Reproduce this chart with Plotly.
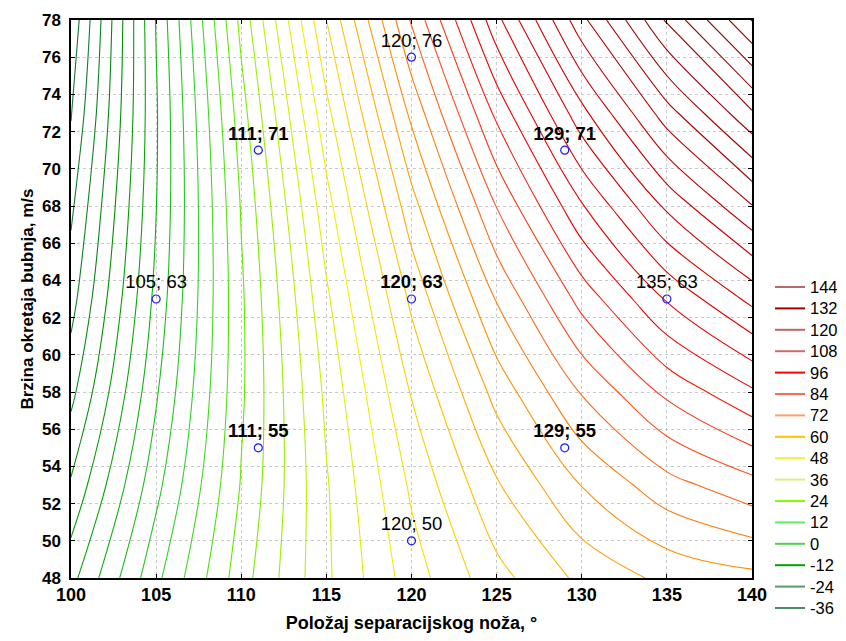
import plotly.graph_objects as go

# Grid of the response surface
x_vals = [100, 105, 110, 115, 120, 125, 130, 135, 140]
y_vals = [48, 53, 58, 63, 68, 73, 78]
z_rows = [
    [-5.30, 10.96, 26.24, 39.28, 50.08, 58.64, 64.96, 69.04, 70.88],     # y=48
    [-11.50, 6.72, 24.29, 39.61, 52.70, 63.55, 72.15, 78.52, 82.64],     # y=53
    [-17.20, 3.46, 23.31, 40.93, 56.30, 69.43, 80.33, 88.98, 95.39],     # y=58
    [-21.60, 1.18, 23.32, 43.22, 60.88, 76.30, 89.48, 100.42, 109.12],   # y=63
    [-24.85, -0.12, 24.31, 46.49, 66.44, 84.15, 99.61, 112.84, 123.83],  # y=68
    [-28.30, -0.44, 26.27, 50.75, 72.98, 92.97, 110.73, 126.24, 139.52], # y=73
    [-31.00, 0.22, 29.22, 55.98, 80.50, 102.78, 122.82, 140.62, 156.18], # y=78
]

# Design points
pt_x = [105, 111, 111, 120, 120, 120, 129, 129, 135]
pt_y = [63, 55, 71, 50, 63, 76, 55, 71, 63]
pt_bold = [False, True, True, False, True, False, True, True, False]

# Legend levels
legend_levels = [144, 132, 120, 108, 96, 84, 72, 60, 48, 36, 24, 12, 0, -12, -24, -36]
legend_colors = ["#b86a6a", "#a00000", "#c06464", "#d06a6a", "#ff0000", "#ff6a55",
                 "#ffa060", "#ffc000", "#f0f040", "#d8f080", "#80ff00", "#60f060",
                 "#50d050", "#00a000", "#5a9a6a", "#4e8a66"]

line_scale_vals = [-36, -24, -12, 0, 12, 24, 36, 48, 60, 72, 84, 96, 108, 120, 132, 144]
line_scale_cols = ["#1f6a45", "#137a35", "#009000", "#10b010", "#30d030", "#60e800",
                   "#b8f000", "#f0f000", "#ffc000", "#ff9000", "#ff5020", "#f00000",
                   "#d80000", "#c00000", "#a00000", "#8c0a0a"]
zmin, zmax = -36, 144
colorscale = [[(v - zmin) / (zmax - zmin), c] for v, c in zip(line_scale_vals, line_scale_cols)]

FONT = "Liberation Sans, Arial"

fig = go.Figure()
fig.add_trace(go.Contour(
    x=x_vals, y=y_vals, z=z_rows,
    contours=dict(start=-48, end=160, size=4, coloring="lines"),
    colorscale=colorscale, zmin=zmin, zmax=zmax, zauto=False,
    line=dict(width=1.1), showscale=False, showlegend=False,
    hoverinfo="skip",
))

labels = [f"{a}; {b}" for a, b in zip(pt_x, pt_y)]
texts = [f"<b>{t}</b>" if b else t for t, b in zip(labels, pt_bold)]
fig.add_trace(go.Scatter(
    x=pt_x, y=pt_y, mode="markers+text", text=texts, textposition="top center",
    textfont=dict(size=18.5, color="black", family=FONT),
    marker=dict(symbol="circle-open", size=8, color="#1a1aff", line=dict(width=1.2)),
    showlegend=False, hoverinfo="skip",
))

# Manual legend (line sample + label), placed in paper coordinates
plot_h = 558.0
plot_w = 681.0
for i, (lv, col) in enumerate(zip(legend_levels, legend_colors)):
    ypix = 287 + i * 21.4
    yp = (578 - ypix) / plot_h
    fig.add_shape(type="line", xref="paper", yref="paper",
                  x0=(775 - 71) / plot_w, x1=(805 - 71) / plot_w, y0=yp, y1=yp,
                  line=dict(color=col, width=2))
    fig.add_annotation(xref="paper", yref="paper", x=(809 - 71) / plot_w, y=yp,
                       text=str(lv), showarrow=False, xanchor="left", yanchor="middle",
                       borderpad=0,
                       font=dict(size=16.5, color="black", family=FONT))

axis_common = dict(showline=True, linecolor="black", linewidth=1.5, mirror="ticks",
                   ticks="inside", ticklen=4, tickcolor="black",
                   showgrid=True, gridcolor="#c8c8c8", griddash="dot", gridwidth=1,
                   zeroline=False)

# page body has an 8px margin, so the figure is 8px smaller and offset
fig.update_layout(
    width=838, height=633,
    margin=dict(l=63, r=94, t=12, b=63, autoexpand=False),
    paper_bgcolor="white", plot_bgcolor="white",
    font=dict(family=FONT, color="black"),
    showlegend=False,
    xaxis=dict(range=[100, 140], tickvals=list(range(100, 141, 5)),
               tickfont=dict(size=18, color="black", family=FONT, weight="bold"),
               title=dict(text="<b>Položaj separacijskog noža, °</b>", font=dict(size=18), standoff=12),
               **axis_common),
    yaxis=dict(range=[48, 78], tickvals=list(range(48, 79, 2)),
               tickfont=dict(size=17, color="black", family=FONT, weight="bold"),
               ticklabelstandoff=5,
               title=dict(text="<b>Brzina okretaja bubnja, m/s</b>", font=dict(size=17), standoff=4),
               **axis_common),
)

fig.write_html("out.html")
